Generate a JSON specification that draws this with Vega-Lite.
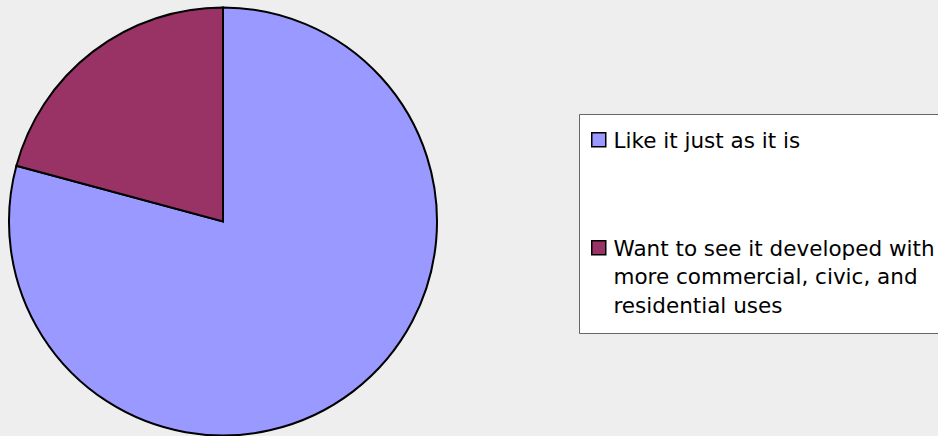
{
  "$schema": "https://vega.github.io/schema/vega-lite/v6.json",
  "width": 446,
  "height": 443,
  "padding": 0,
  "background": "#eeeeee",
  "config": {"view": {"stroke": null}},
  "data": {
    "values": [
      {"response": "Like it just as it is", "percent": 79.2},
      {"response": "Want to see it developed with more commercial, civic, and residential uses", "percent": 20.8}
    ]
  },
  "mark": {"type": "arc", "outerRadius": 214, "stroke": "black", "strokeWidth": 2, "strokeJoin": "miter"},
  "encoding": {
    "theta": {"field": "percent", "type": "quantitative", "stack": true},
    "color": {
      "field": "response",
      "type": "nominal",
      "scale": {
        "domain": ["Like it just as it is", "Want to see it developed with more commercial, civic, and residential uses"],
        "range": ["#9999ff", "#993366"]
      },
      "legend": {
        "title": null,
        "orient": "none",
        "legendX": 579,
        "legendY": 114,
        "padding": 15,
        "symbolOffset": -6,
        "fillColor": "white",
        "strokeColor": "#666666",
        "symbolType": "square",
        "symbolSize": 196,
        "symbolStrokeColor": "black",
        "symbolStrokeWidth": 1.5,
        "symbolOpacity": 1,
        "labelFont": "DejaVu Sans",
        "labelFontSize": 21.5,
        "labelColor": "black",
        "labelLimit": 500,
        "labelOffset": 4,
        "labelBaseline": "alphabetic",
        "rowPadding": 84,
        "labelExpr": "datum.value == 'Like it just as it is' ? datum.label : ['Want to see it developed with', 'more commercial, civic, and', 'residential uses']",
        "encode": {"labels": {"update": {"dy": {"value": 8}, "lineHeight": {"value": 28.5}}}}
      }
    }
  }
}
